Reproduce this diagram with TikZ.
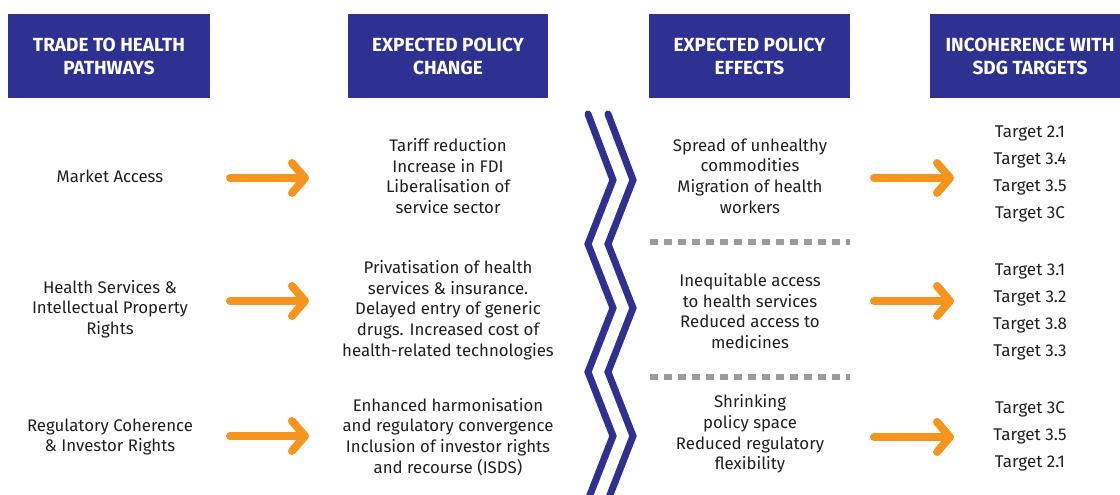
\documentclass[tikz,border=0pt]{standalone}
\usepackage{fontspec}
\setmainfont{Fira Sans}
\usepackage{xcolor}
\usepackage{tikz}
\usetikzlibrary{arrows.meta}

\definecolor{navy}{HTML}{2E3192}
\definecolor{ora}{HTML}{F7941D}
\definecolor{dashgray}{HTML}{9B9B9B}
\definecolor{ink}{HTML}{231F20}

\tikzset{
  headbox/.style={fill=navy, text=white, align=center, inner sep=0pt,
    minimum height=84pt, font=\fontsize{19}{23}\selectfont\bfseries},
  body/.style={text=ink, align=center, inner sep=0pt,
    font=\fontsize{16.8}{20.7}\selectfont},
  targets/.style={body, font=\fontsize{17}{27}\selectfont},
  flow/.style={ora, line width=8pt, line cap=round,
    -{Straight Barb[length=13pt, width=30pt, line cap=round, line join=round]}},
  chev/.style={navy, line width=7pt, line cap=round, line join=miter},
  sep/.style={dashgray, line width=6pt, dash pattern=on 8pt off 6pt}
}

\begin{document}
\begin{tikzpicture}[x=1pt, y=-1pt]
        \clip (0,0) rectangle (1120,495);
        \fill[white] (0,0) rectangle (1120,495);

        % headers
        \node[headbox, minimum width=202pt] (h1) at (109,56) {TRADE TO HEALTH\\PATHWAYS};
        \node[headbox, minimum width=200pt] (h2) at (448,56) {EXPECTED POLICY\\CHANGE};
        \node[headbox, minimum width=201pt] (h3) at (749.5,56) {EXPECTED POLICY\\EFFECTS};
        \node[headbox, minimum width=200pt] (h4) at (1030,56) {INCOHERENCE WITH\\SDG TARGETS};

        % pathways
        \node[body] (path1) at (110,176) {Market Access};
        \node[body] (path2) at (110,309) {Health Services \&\\Intellectual Property\\Rights};
        \node[body] (path3) at (110,437) {Regulatory Coherence\\\& Investor Rights};

        % policy change
        \node[body] (chg1) at (448,176) {Tariff reduction\\Increase in FDI\\Liberalisation of\\service sector};
        \node[body] (chg2) at (448,310) {Privatisation of health\\services \& insurance.\\Delayed entry of generic\\drugs. Increased cost of\\health-related technologies};
        \node[body] (chg3) at (448,437) {Enhanced harmonisation\\and regulatory convergence\\Inclusion of investor rights\\and recourse (ISDS)};

        % policy effects
        \node[body] (eff1) at (750,176) {Spread of unhealthy\\commodities\\Migration of health\\workers};
        \node[body] (eff2) at (750,311) {Inequitable access\\to health services\\Reduced access to\\medicines};
        \node[body] (eff3) at (750,434) {Shrinking\\policy space\\Reduced regulatory\\flexibility};

        % SDG targets
        \node[targets] (sdg1) at (1030,174) {Target 2.1\\Target 3.4\\Target 3.5\\Target 3C};
        \node[targets] (sdg2) at (1030,312) {Target 3.1\\Target 3.2\\Target 3.8\\Target 3.3};
        \node[targets] (sdg3) at (1030,436) {Target 3C\\Target 3.5\\Target 2.1};

        % arrow ends
        \coordinate (a1s) at (230,178);  \coordinate (a1e) at (309,178);
        \coordinate (a2s) at (230,301);  \coordinate (a2e) at (309,301);
        \coordinate (a3s) at (230,436);  \coordinate (a3e) at (309,436);
        \coordinate (b1s) at (874,178);  \coordinate (b1e) at (954,178);
        \coordinate (b2s) at (874,301);  \coordinate (b2e) at (954,301);
        \coordinate (b3s) at (874,437);  \coordinate (b3e) at (954,437);

        \draw[flow] (a1s) -- (a1e);
        \draw[flow] (a2s) -- (a2e);
        \draw[flow] (a3s) -- (a3e);
        \draw[flow] (b1s) -- (b1e);
        \draw[flow] (b2s) -- (b2e);
        \draw[flow] (b3s) -- (b3e);

        % double zigzag
        \draw[chev] (588,114) -- (613,180) -- (588,244) -- (613,308) -- (588,372) -- (613,436) -- (588,500);
        \draw[chev] (608,114) -- (633,180) -- (608,244) -- (633,308) -- (608,372) -- (633,436) -- (608,500);

        % separators
        \draw[sep] (650,242) -- (850,242);
        \draw[sep] (650,377) -- (850,377);
    \end{tikzpicture}
\end{document}
